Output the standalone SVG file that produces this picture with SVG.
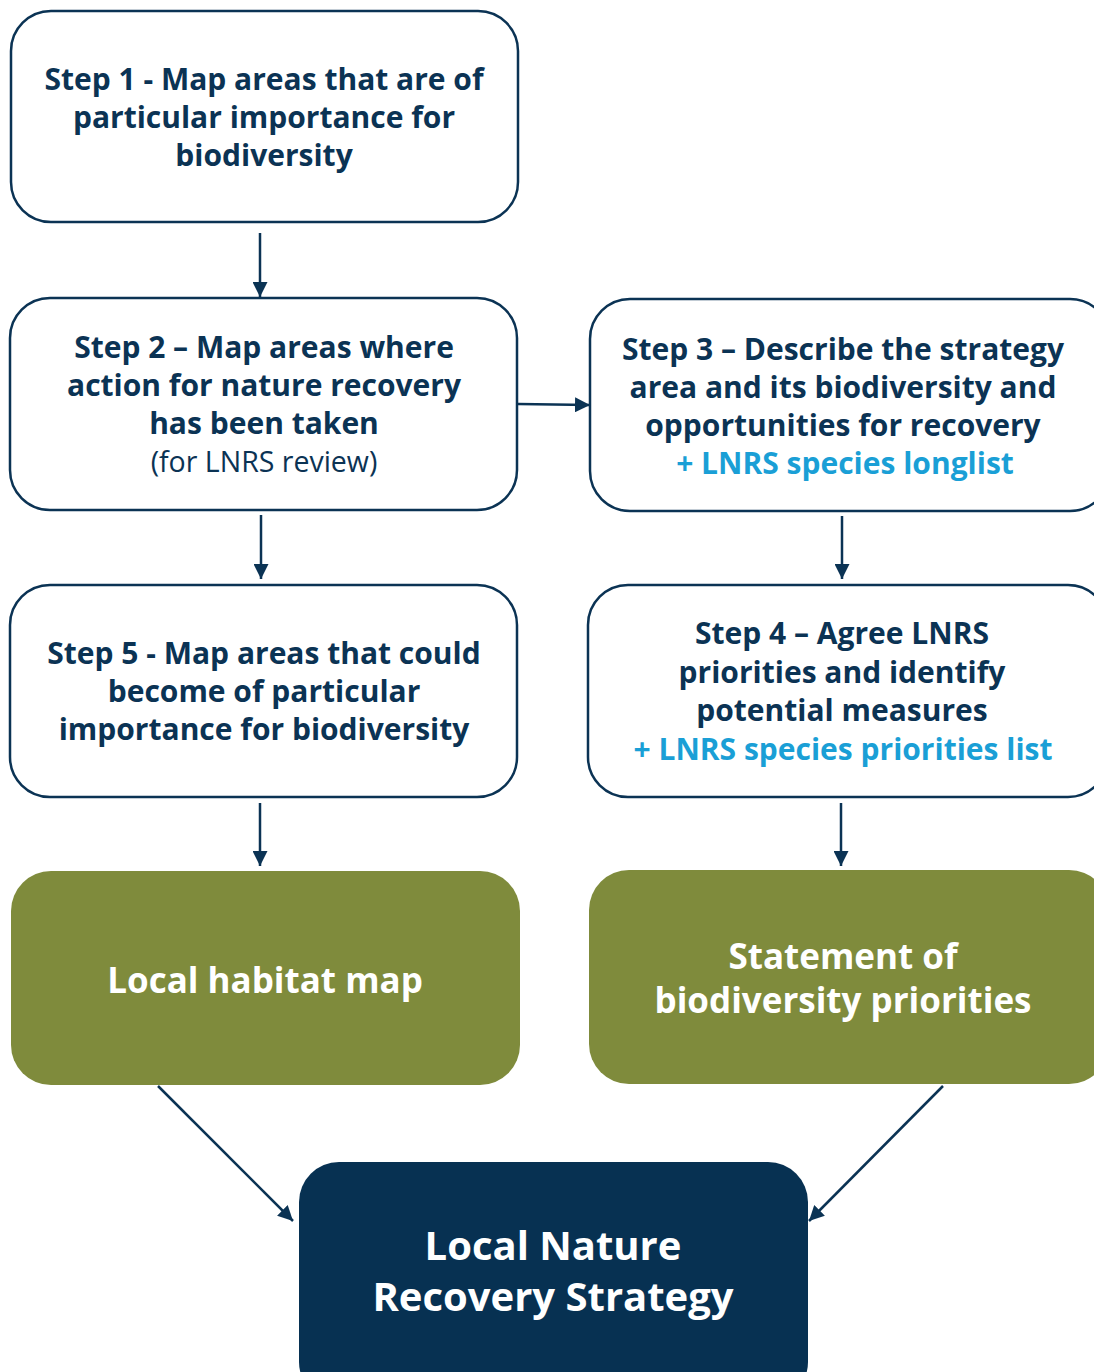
<svg xmlns="http://www.w3.org/2000/svg" width="1094" height="1372" viewBox="0 0 1094 1372">
<style>
.box{fill:#ffffff;stroke:#0b3354;stroke-width:2.5}
.green{fill:#7f8b3c}
.dark{fill:#073152}
text{font-family:"Open Sans","Noto Sans","DejaVu Sans",sans-serif;text-anchor:middle}
.t{font-size:30px;font-weight:700;fill:#0b3354}
.r{font-size:28.5px;font-weight:400;fill:#0b3354}
.b{font-size:30px;font-weight:700;fill:#1a9fd6}
.w{font-weight:700;fill:#ffffff}
.conn{stroke:#0b3354;stroke-width:2.5;fill:none;marker-end:url(#ah)}
</style>
<defs>
<marker id="ah" viewBox="0 0 10 10" refX="10" refY="5" markerWidth="6" markerHeight="6" markerUnits="strokeWidth" orient="auto">
<path d="M0,0 L10,5 L0,10 z" fill="#0b3354"/>
</marker>
</defs>
<g id="connectors">
<line class="conn" x1="260" y1="233" x2="260" y2="297"/>
<line class="conn" x1="261" y1="515" x2="261" y2="579"/>
<line class="conn" x1="260" y1="803" x2="260" y2="866"/>
<line class="conn" x1="842" y1="516" x2="842" y2="579"/>
<line class="conn" x1="841" y1="803" x2="841" y2="866"/>
<line class="conn" x1="518" y1="404" x2="590" y2="405"/>
<line class="conn" x1="158" y1="1086" x2="293" y2="1221"/>
<line class="conn" x1="943" y1="1086" x2="809" y2="1221"/>
</g>
<g id="step1">
<rect class="box" x="11" y="11" width="507" height="211" rx="40"/>
<text class="t"><tspan x="264" y="90">Step 1 - Map areas that are of</tspan><tspan x="264" y="128">particular importance for</tspan><tspan x="264" y="166">biodiversity</tspan></text>
</g>
<g id="step2">
<rect class="box" x="10" y="298" width="507" height="212" rx="40"/>
<text class="t"><tspan x="264" y="358">Step 2 – Map areas where</tspan><tspan x="264" y="396">action for nature recovery</tspan><tspan x="264" y="434">has been taken</tspan></text>
<text class="r" x="264" y="472">(for LNRS review)</text>
</g>
<g id="step3">
<rect class="box" x="590" y="299" width="520" height="212" rx="40"/>
<text class="t"><tspan x="843" y="360">Step 3 – Describe the strategy</tspan><tspan x="843" y="398">area and its biodiversity and</tspan><tspan x="843" y="436">opportunities for recovery</tspan></text>
<text class="b" x="845" y="474">+ LNRS species longlist</text>
</g>
<g id="step5">
<rect class="box" x="10" y="585" width="507" height="212" rx="40"/>
<text class="t"><tspan x="264" y="664">Step 5 - Map areas that could</tspan><tspan x="264" y="702">become of particular</tspan><tspan x="264" y="740">importance for biodiversity</tspan></text>
</g>
<g id="step4">
<rect class="box" x="588" y="585" width="520" height="212" rx="40"/>
<text class="t"><tspan x="842" y="644">Step 4 – Agree LNRS</tspan><tspan x="842" y="683">priorities and identify</tspan><tspan x="842" y="721">potential measures</tspan></text>
<text class="b" x="843" y="760">+ LNRS species priorities list</text>
</g>
<g id="habitat-map">
<rect class="green" x="11" y="871" width="509" height="214" rx="40"/>
<text class="w" x="265" y="993" font-size="35">Local habitat map</text>
</g>
<g id="statement">
<rect class="green" x="589" y="870" width="520" height="214" rx="40"/>
<text class="w" font-size="35"><tspan x="843" y="969">Statement of</tspan><tspan x="843" y="1013">biodiversity priorities</tspan></text>
</g>
<g id="lnrs">
<rect class="dark" x="299" y="1162" width="509" height="240" rx="40"/>
<text class="w" font-size="40"><tspan x="553" y="1260">Local Nature</tspan><tspan x="553" y="1311">Recovery Strategy</tspan></text>
</g>
</svg>
